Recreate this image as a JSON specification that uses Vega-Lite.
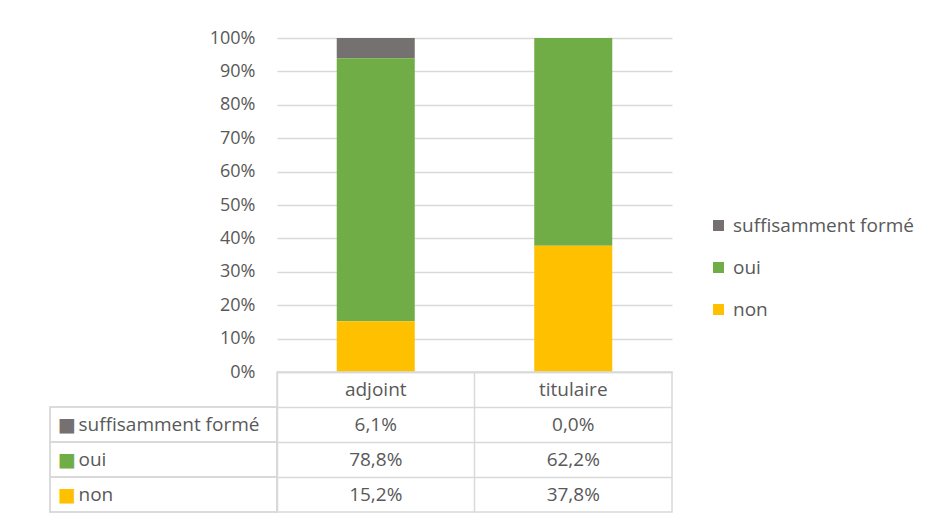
{
  "$schema": "https://vega.github.io/schema/vega-lite/v6.json",
  "padding": {"left": 49, "top": 29, "right": 0, "bottom": 0},
  "background": "white",
  "config": {
    "font": "Open Sans",
    "view": {"stroke": null},
    "locale": {"number": {"decimal": ",", "thousands": "\u00a0", "grouping": [3], "currency": ["", "\u00a0€"]}}
  },
  "datasets": {
    "d": [
      {"cat": "adjoint", "serie": "suffisamment formé", "v": 0.061},
      {"cat": "adjoint", "serie": "oui", "v": 0.788},
      {"cat": "adjoint", "serie": "non", "v": 0.152},
      {"cat": "titulaire", "serie": "suffisamment formé", "v": 0.0},
      {"cat": "titulaire", "serie": "oui", "v": 0.622},
      {"cat": "titulaire", "serie": "non", "v": 0.378}
    ]
  },
  "columns": 2,
  "spacing": 0,
  "bounds": "flush",
  "concat": [
    {
      "width": 227,
      "height": 334,
      "data": {"values": []},
      "mark": {"type": "point", "opacity": 0},
      "encoding": {
        "x": {"field": "a", "type": "quantitative", "axis": null},
        "y": {"field": "b", "type": "quantitative", "axis": null}
      }
    },
    {
      "width": 395,
      "height": 334,
      "data": {"name": "d"},
      "mark": {"type": "bar"},
      "encoding": {
        "x": {"field": "cat", "type": "nominal", "axis": null, "scale": {"paddingInner": 0.605, "paddingOuter": 0.3025}},
        "y": {
          "field": "v", "type": "quantitative", "stack": "normalize",
          "scale": {"domain": [0, 1], "nice": false},
          "axis": {"values": [0, 0.1, 0.2, 0.3, 0.4, 0.5, 0.6, 0.7, 0.8, 0.9, 1], "format": ".0%", "title": null, "domain": false, "ticks": false, "tickSize": 0, "labelPadding": 22, "labelFontSize": 18, "labelColor": "#595959", "gridColor": "#d9d9d9", "gridWidth": 1.5}
        },
        "color": {
          "field": "serie", "type": "nominal",
          "scale": {"domain": ["suffisamment formé", "oui", "non"], "range": ["#767171", "#70AD47", "#FFC000"]},
          "legend": {"orient": "none", "legendX": 659, "legendY": 178, "title": null, "symbolType": "square", "symbolSize": 121, "symbolStrokeWidth": 0, "labelFontSize": 19, "labelLimit": 400, "labelColor": "#595959", "rowPadding": 22, "padding": 0, "labelOffset": 5}
        },
        "order": {"field": "serie", "sort": "ascending"}
      }
    },
    {
      "width": 227,
      "height": 140,
      "data": {"name": "d"},
      "transform": [{"filter": "datum.cat === 'adjoint'"}],
      "encoding": {
        "x": {"datum": 0, "type": "quantitative", "scale": {"domain": [0, 1], "nice": false}, "axis": null},
        "x2": {"datum": 1}
      },
      "layer": [
        {
          "mark": {"type": "rect", "filled": false, "stroke": "#d9d9d9", "strokeWidth": 1.5},
          "encoding": {
            "y": {
              "field": "serie", "type": "nominal",
              "scale": {"domain": ["hdr", "suffisamment formé", "oui", "non"], "padding": 0},
              "axis": {"orient": "left", "values": ["suffisamment formé", "oui", "non"], "labelAlign": "left", "labelPadding": -28, "domain": false, "ticks": false, "grid": false, "title": null, "labelFontSize": 19, "labelLimit": 300, "labelColor": "#595959"}
            }
          }
        },
        {
          "mark": {"type": "rect", "filled": false, "stroke": "#d9d9d9", "strokeWidth": 1.5},
          "encoding": {
            "y": {
              "field": "serie", "type": "nominal",
              "scale": {"domain": ["hdr", "suffisamment formé", "oui", "non"], "padding": 0},
              "axis": {"orient": "left", "values": ["suffisamment formé", "oui", "non"], "labelExpr": "'■'", "labelAlign": "left", "labelPadding": -7.5, "labelFont": "DejaVu Sans", "domain": false, "ticks": false, "grid": false, "title": null, "labelFontSize": 19,
                "labelColor": {"condition": [{"test": "datum.value === 'oui'", "value": "#70AD47"}, {"test": "datum.value === 'non'", "value": "#FFC000"}], "value": "#767171"}}
            }
          }
        }
      ],
      "resolve": {"axis": {"y": "independent"}}
    },
    {
      "width": 395,
      "height": 140,
      "view": {"stroke": "#d9d9d9", "strokeWidth": 1.5},
      "data": {"name": "d"},
      "layer": [
        {
          "mark": {"type": "text", "fontSize": 19, "color": "#595959"},
          "encoding": {
            "x": {"field": "cat", "type": "nominal", "scale": {"type": "band", "padding": 0}, "axis": {"bandPosition": 0, "grid": true, "labels": false, "ticks": false, "domain": false, "title": null, "gridColor": "#d9d9d9", "gridWidth": 1.5}},
            "y": {"field": "serie", "type": "nominal", "scale": {"type": "band", "domain": ["hdr", "suffisamment formé", "oui", "non"], "padding": 0}, "axis": {"bandPosition": 0, "grid": true, "labels": false, "ticks": false, "domain": false, "title": null, "gridColor": "#d9d9d9", "gridWidth": 1.5}},
            "text": {"field": "v", "type": "quantitative", "format": ".1%"}
          }
        },
        {
          "transform": [{"filter": "datum.serie === 'oui'"}],
          "mark": {"type": "text", "fontSize": 19, "color": "#595959"},
          "encoding": {
            "x": {"field": "cat", "type": "nominal"},
            "y": {"datum": "hdr", "type": "nominal"},
            "text": {"field": "cat", "type": "nominal"}
          }
        }
      ]
    }
  ]
}
